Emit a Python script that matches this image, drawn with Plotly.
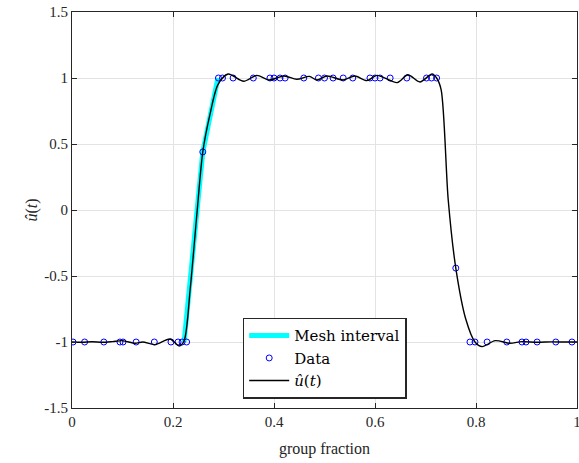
import plotly.graph_objects as go

# Data
data_t = [0.002, 0.025, 0.063, 0.095, 0.101, 0.127, 0.163, 0.196, 0.210, 0.218, 0.227,
          0.259,
          0.290, 0.298, 0.319, 0.359, 0.392, 0.400, 0.412, 0.422, 0.459, 0.488, 0.500,
          0.517, 0.537, 0.556, 0.590, 0.600, 0.610, 0.630, 0.663, 0.702, 0.712, 0.722,
          0.760,
          0.788, 0.798, 0.822, 0.861, 0.891, 0.899, 0.921, 0.958, 0.990]
data_u = [-1] * 11 + [0.44] + [1] * 22 + [-0.44] + [-1] * 9

mesh_t = [0.222, 0.259, 0.289]
mesh_u = [-1.0, 0.44, 1.0]

fit_t = [0.0, 0.02, 0.04, 0.06, 0.08, 0.10, 0.125, 0.14, 0.164, 0.194, 0.212, 0.222,
         0.234, 0.248, 0.259, 0.273, 0.289, 0.309, 0.34, 0.366, 0.39, 0.42, 0.445,
         0.47, 0.485, 0.505, 0.537, 0.56, 0.584, 0.604, 0.644, 0.665, 0.689, 0.713,
         0.722, 0.731, 0.745, 0.760, 0.780, 0.798, 0.812, 0.838, 0.867, 0.891,
         0.92, 0.95, 0.975, 1.0]
fit_u = [-1.0, -1.002, -0.998, -1.002, -0.997, -0.99, -1.01, -1.0, -1.02, -0.977, -1.03, -0.99,
         -0.6, 0.0, 0.44, 0.72, 0.95, 1.03, 0.975, 1.02, 0.985, 1.015, 0.99,
         1.012, 0.985, 1.015, 0.985, 1.015, 0.98, 1.02, 0.965, 1.025, 0.97, 1.03,
         1.0, 0.91, 0.076, -0.44, -0.83, -1.0, -1.035, -0.99, -1.01, -0.997,
         -1.002, -0.999, -1.0, -1.0]

x_ticks = [0, 0.2, 0.4, 0.6, 0.8, 1]
x_labels = ["0", "0.2", "0.4", "0.6", "0.8", "1"]
y_ticks = [-1.5, -1, -0.5, 0, 0.5, 1, 1.5]
y_labels = ["-1.5", "-1", "-0.5", "0", "0.5", "1", "1.5"]

FONT = "Liberation Serif"
AX = "#262626"

fig = go.Figure()
fig.add_trace(go.Scatter(x=mesh_t, y=mesh_u, mode="lines", name="Mesh interval",
                         line=dict(color="#00ffff", width=5)))
fig.add_trace(go.Scatter(x=data_t, y=data_u, mode="markers", name="Data",
                         marker=dict(symbol="circle-open", color="#0000ff", size=6,
                                     line=dict(width=1, color="#0000ff"))))
fig.add_trace(go.Scatter(x=fit_t, y=fit_u, mode="lines", name="<i>û</i>(<i>t</i>)",
                         line=dict(color="black", width=1.4, shape="spline", smoothing=0.8)))

axis_common = dict(showline=True, linecolor=AX, linewidth=1, mirror="ticks",
                   ticks="inside", ticklen=5, tickcolor=AX,
                   showgrid=True, gridcolor="#e3e3e3", gridwidth=1,
                   zeroline=False, automargin=False, ticklabeloverflow="allow",
                   tickfont=dict(family=FONT, size=15, color=AX))

fig.update_xaxes(range=[0, 1], tickvals=x_ticks, ticktext=x_labels,
                 title=dict(text="group fraction", font=dict(family=FONT, size=16, color=AX),
                            standoff=13),
                 **axis_common)
fig.update_yaxes(range=[-1.5, 1.5], tickvals=y_ticks, ticktext=y_labels,
                 title=dict(text="<i>û</i>(<i>t</i>)", font=dict(family=FONT, size=16, color=AX),
                            standoff=2),
                 **axis_common)

fig.update_layout(
    width=579, height=463,
    margin=dict(l=72, r=2, t=12, b=55),
    paper_bgcolor="white", plot_bgcolor="white",
    showlegend=True,
    legend=dict(x=0.338, y=0.228, xanchor="left", yanchor="top",
                bgcolor="white", bordercolor="#262626", borderwidth=1.5,
                font=dict(family="DejaVu Serif", size=15, color="black"),
                tracegroupgap=0, itemwidth=40),
)

fig.write_html("out.html", config={"displayModeBar": False},
               post_script="document.body.style.margin='0';document.body.style.overflow='hidden';")
